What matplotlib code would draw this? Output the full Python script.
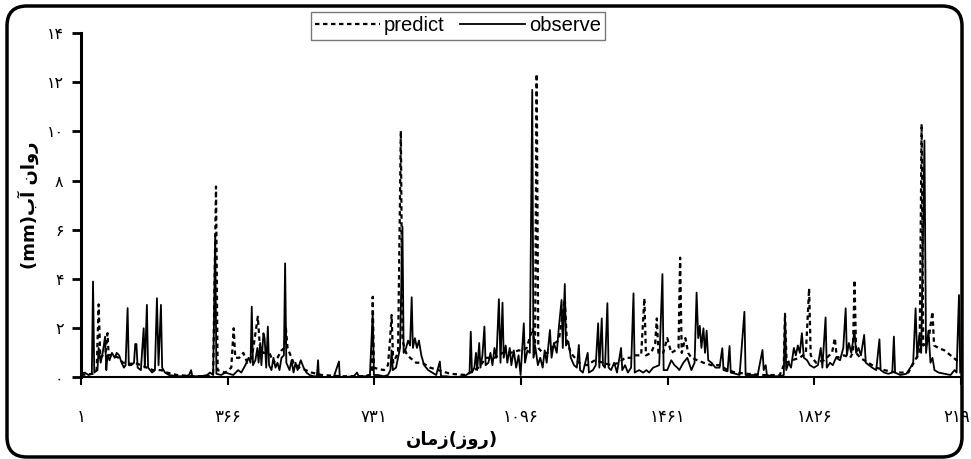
import matplotlib.pyplot as plt
from matplotlib.patches import FancyBboxPatch

obs_day = [1, 10, 20, 28, 31, 34, 42, 45, 50, 55, 61, 64, 67, 72, 78, 85, 90, 96, 102, 108,
           112, 117, 120, 126, 133, 136, 139, 142, 150, 157, 160, 165, 168, 178, 185, 190, 194,
           200, 203, 210, 220, 240, 260, 270, 275, 278, 300, 315, 322, 330, 335, 338, 350, 360,
           370, 380, 392, 400, 410, 418, 423, 426, 429, 435, 440, 443, 447, 450, 455, 458, 462,
           466, 469, 475, 480, 485, 490, 495, 500, 506, 509, 512, 520, 525, 530, 535, 540, 548,
           555, 562, 570, 580, 588, 591, 593, 610, 630, 643, 645, 660, 680, 688, 692, 710, 720,
           727, 730, 740, 755, 765, 771, 774, 777, 785, 790, 795, 801, 804, 810, 815, 820, 824,
           827, 832, 837, 842, 848, 855, 865, 875, 885, 894, 897, 910, 930, 950, 960, 968, 971,
           974, 980, 984, 987, 992, 995, 1000, 1005, 1008, 1015, 1020, 1025, 1030, 1035, 1041,
           1045, 1050, 1053, 1058, 1062, 1068, 1072, 1078, 1084, 1090, 1095, 1103, 1106, 1112,
           1118, 1124, 1127, 1132, 1138, 1144, 1150, 1155, 1160, 1168, 1172, 1178, 1185, 1190,
           1197, 1200, 1205, 1208, 1214, 1220, 1228, 1235, 1240, 1243, 1250, 1256, 1262, 1265,
           1275, 1282, 1288, 1291, 1297, 1300, 1305, 1311, 1314, 1320, 1328, 1335, 1345, 1348,
           1355, 1362, 1370, 1376, 1379, 1390, 1400, 1408, 1415, 1425, 1440, 1448, 1451, 1460,
           1470, 1478, 1485, 1490, 1500, 1510, 1520, 1528, 1533, 1537, 1541, 1545, 1550, 1554,
           1558, 1562, 1570, 1580, 1590, 1597, 1600, 1610, 1615, 1618, 1630, 1640, 1652, 1655,
           1670, 1685, 1697, 1700, 1705, 1708, 1720, 1740, 1750, 1753, 1756, 1762, 1768, 1775,
           1780, 1785, 1790, 1795, 1800, 1808, 1815, 1825, 1835, 1842, 1846, 1854, 1857, 1865,
           1872, 1880, 1890, 1898, 1904, 1907, 1912, 1918, 1926, 1930, 1936, 1942, 1950, 1954,
           1962, 1970, 1980, 1988, 1991, 2000, 2010, 2020, 2024, 2027, 2040, 2055, 2065, 2072,
           2078, 2082, 2087, 2092, 2100, 2104, 2110, 2115, 2120, 2125, 2135, 2150, 2165, 2175,
           2180, 2186, 2189]
obs_val = [0.15, 0.2, 0.1, 0.15, 3.9, 0.2, 0.3, 1.2, 0.6, 1.0, 1.66, 0.3, 0.9, 0.7, 1.0, 0.8,
           1.0, 0.9, 0.6, 0.4, 0.5, 2.82, 0.5, 0.5, 0.6, 1.36, 1.36, 0.4, 0.3, 2.0, 0.4, 2.95,
           0.4, 0.2, 0.3, 3.22, 0.5, 2.95, 0.4, 0.2, 0.1, 0.05, 0.05, 0.1, 0.3, 0.05, 0.05, 0.1,
           0.2, 0.1, 5.79, 0.15, 0.1, 0.2, 0.15, 0.1, 0.3, 0.2, 0.5, 0.8, 0.6, 2.88, 0.5, 0.7,
           1.2, 0.6, 1.4, 0.5, 1.8, 1.6, 0.4, 2.07, 0.5, 0.3, 0.8, 0.4, 0.6, 0.3, 0.8, 0.9,
           4.64, 0.6, 0.3, 0.7, 0.2, 0.6, 0.3, 0.7, 0.4, 0.2, 0.1, 0.05, 0.05, 0.7, 0.05, 0.0,
           0.02, 0.65, 0.02, 0.02, 0.05, 0.2, 0.05, 0.05, 0.1, 2.6, 0.1, 0.1, 0.05, 0.1, 0.3,
           1.1, 0.3, 0.4, 0.8, 1.2, 6.13, 1.0, 1.2, 1.5, 1.3, 3.26, 1.2, 1.6, 1.2, 1.5, 0.9,
           0.5, 0.3, 0.2, 0.1, 0.65, 0.05, 0.05, 0.0, 0.05, 0.1, 0.2, 1.86, 0.2, 0.4, 1.0, 0.3,
           1.4, 0.4, 0.9, 2.07, 0.5, 0.6, 1.0, 0.5, 1.2, 0.8, 3.18, 0.6, 3.04, 0.8, 1.3, 0.6,
           1.2, 0.5, 1.1, 0.4, 0.9, 0.1, 2.2, 0.6, 1.1, 1.0, 11.69, 0.8, 1.2, 0.5, 0.8, 0.4,
           1.1, 0.6, 1.93, 0.8, 1.4, 1.0, 2.0, 3.15, 1.2, 3.8, 1.3, 1.46, 0.8, 0.5, 0.4, 1.32,
           0.3, 0.2, 0.6, 1.0, 0.2, 0.3, 0.5, 2.2, 0.4, 2.4, 0.5, 0.4, 3.02, 0.4, 0.3, 0.6, 0.2,
           1.2, 0.3, 0.5, 0.2, 0.4, 3.42, 0.2, 0.3, 0.2, 0.3, 0.2, 0.4, 0.5, 4.2, 0.3, 0.3, 0.7,
           0.5, 0.4, 0.3, 0.6, 0.8, 0.3, 0.6, 3.45, 1.6, 2.1, 1.2, 2.0, 1.0, 1.9, 0.7, 0.6, 0.4,
           0.4, 1.19, 0.3, 0.25, 1.28, 0.2, 0.15, 0.1, 2.67, 0.1, 0.1, 0.1, 1.12, 0.3, 0.5, 0.1,
           0.05, 0.05, 0.1, 2.6, 0.3, 0.6, 0.4, 1.2, 0.9, 1.3, 1.0, 1.8, 0.8, 0.7, 0.5, 0.4,
           0.5, 1.2, 0.4, 2.44, 0.4, 0.6, 0.5, 0.8, 0.7, 1.2, 2.81, 0.9, 1.4, 1.0, 1.9, 1.0,
           1.2, 0.9, 1.73, 0.6, 0.5, 0.4, 0.3, 1.55, 0.3, 0.2, 0.15, 0.2, 1.66, 0.2, 0.1, 0.15,
           0.4, 0.6, 2.81, 0.8, 1.7, 1.0, 9.63, 1.0, 1.9, 0.6, 0.8, 0.3, 0.2, 0.15, 0.1, 0.3,
           0.2, 3.35, 0.2]

# predicted runoff (mm)
pred_day = [1, 30, 40, 45, 49, 55, 62, 67, 70, 80, 95, 105, 115, 125, 135, 150, 165, 180, 200,
            215, 240, 280, 320, 330, 337, 341, 360, 375, 381, 385, 395, 405, 415, 425, 430, 436,
            441, 446, 455, 470, 480, 490, 500, 507, 511, 515, 530, 545, 560, 575, 600, 650, 700,
            720, 725, 727, 730, 740, 755, 765, 770, 774, 778, 790, 797, 801, 810, 820, 835, 850,
            870, 890, 920, 960, 990, 1010, 1030, 1050, 1070, 1090, 1100, 1110, 1125, 1131, 1135,
            1139, 1150, 1165, 1180, 1190, 1205, 1210, 1220, 1240, 1260, 1280, 1300, 1320, 1340,
            1355, 1370, 1380, 1395, 1403, 1407, 1420, 1430, 1434, 1438, 1450, 1460, 1470, 1480,
            1488, 1492, 1496, 1505, 1512, 1520, 1535, 1550, 1570, 1590, 1610, 1630, 1660, 1700,
            1740, 1750, 1753, 1757, 1770, 1790, 1805, 1813, 1817, 1830, 1850, 1870, 1877, 1882,
            1900, 1915, 1922, 1926, 1930, 1940, 1960, 1980, 2000, 2030, 2060, 2080, 2088, 2093,
            2097, 2110, 2120, 2124, 2135, 2150, 2165, 2180, 2190]
pred_val = [0.1, 0.15, 0.3, 2.97, 0.8, 0.9, 1.0, 1.8, 0.9, 0.9, 0.8, 0.6, 0.6, 0.55, 0.6, 0.5,
            0.4, 0.3, 0.3, 0.2, 0.1, 0.05, 0.05, 0.2, 7.76, 0.3, 0.2, 0.4, 2.0, 0.8, 0.8, 1.0,
            0.6, 0.8, 1.2, 1.9, 2.47, 1.3, 1.0, 1.0, 0.6, 0.8, 1.1, 1.2, 2.0, 1.2, 0.6, 0.4, 0.3,
            0.2, 0.1, 0.05, 0.05, 0.1, 0.3, 3.28, 0.4, 0.35, 0.3, 0.5, 1.5, 2.54, 0.6, 1.0, 10.02,
            1.5, 1.0, 0.8, 0.6, 0.6, 0.4, 0.3, 0.15, 0.1, 0.4, 0.8, 0.8, 1.0, 1.0, 1.1, 1.1, 1.2,
            2.0, 1.2, 12.34, 1.2, 1.0, 1.0, 1.4, 1.5, 3.2, 1.5, 1.0, 0.6, 0.5, 0.7, 0.6, 0.5,
            0.6, 0.8, 0.8, 0.9, 0.9, 3.22, 0.9, 1.0, 1.4, 2.4, 1.0, 1.0, 1.6, 1.0, 1.1, 1.2,
            4.87, 1.0, 1.6, 1.0, 0.8, 0.7, 0.6, 0.5, 0.5, 0.3, 0.2, 0.15, 0.1, 0.1, 0.5, 2.6,
            0.6, 0.7, 0.8, 1.0, 3.62, 0.9, 0.6, 0.7, 1.0, 1.6, 0.8, 0.9, 0.8, 1.0, 3.96, 1.0,
            0.8, 0.6, 0.4, 0.3, 0.2, 0.2, 0.8, 1.0, 10.3, 1.3, 1.5, 2.67, 1.3, 1.2, 1.1, 0.9,
            0.7, 0.6]

x_ticks = [1, 366, 731, 1096, 1461, 1826, 2191]
y_ticks = [0, 2, 4, 6, 8, 10, 12, 14]


def fa_digits(n):
    return str(n).translate(str.maketrans('0123456789', '۰۱۲۳۴۵۶۷۸۹'))


# Arabic letters given in presentation forms, visual order (matplotlib does no shaping)
y_title = '(mm)\uFE8F\uFE81 \uFEE5\uFE8D\uFEED\uFEAD'   # روان آب(mm)
x_title = '\uFEE5\uFE8E\uFEE3\uFEAF(\uFEAF\uFEED\uFEAD)'  # زمان(روز)

plt.rcParams['font.family'] = ['DejaVu Sans']

fig = plt.figure(figsize=(9.71, 4.59), dpi=100)
ax = fig.add_axes([0.0834, 0.1776, 0.9063, 0.7505])

ax.plot(pred_day, pred_val, color='black', linestyle=(0, (2, 1.6)), linewidth=1.6, label='predict')
ax.plot(obs_day, obs_val, color='black', linestyle='-', linewidth=1.3, label='observe')

ax.set_xlim(1, 2191)
ax.set_ylim(0, 14)
ax.set_xticks(x_ticks)
ax.set_xticklabels([fa_digits(t) for t in x_ticks], fontsize=12)
ax.set_yticks(y_ticks)
ax.set_yticklabels([fa_digits(t) for t in y_ticks], fontsize=11.5)
ax.tick_params(axis='x', direction='out', length=6, width=1.5, pad=16)
ax.tick_params(axis='y', direction='out', length=6.5, width=2, pad=6)

for side in ['top', 'right']:
    ax.spines[side].set_visible(False)
ax.spines['left'].set_linewidth(2.2)
ax.spines['bottom'].set_linewidth(1.5)

fig.text(0.029, 0.553, y_title, rotation=90, ha='center', va='center',
         fontsize=13, fontweight='bold')
fig.text(0.4655, 0.041, x_title, ha='center', va='center',
         fontsize=13, fontweight='bold')

leg = ax.legend(loc='center', bbox_to_anchor=(0.4717, 0.9434), bbox_transform=fig.transFigure,
                ncol=2, frameon=True, fancybox=False, edgecolor='#555555',
                prop={'family': 'Liberation Sans', 'size': 14.5},
                handlelength=3.2, handletextpad=0.2, columnspacing=0.8,
                borderpad=0.2, borderaxespad=0)
leg.get_frame().set_linewidth(1.0)

# rounded border round the whole chart
border = FancyBboxPatch((0.07, 0.02), 9.55, 4.51, boxstyle='round,pad=0,rounding_size=0.2',
                        transform=fig.dpi_scale_trans, facecolor='none',
                        edgecolor='black', linewidth=2.5, zorder=5)
fig.add_artist(border)

fig.savefig('out.png', dpi=100)
